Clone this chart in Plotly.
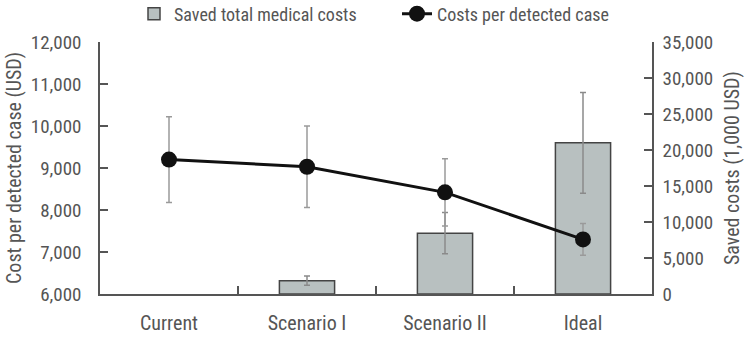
import plotly.graph_objects as go

categories = ["Current", "Scenario I", "Scenario II", "Ideal"]
cost_per_case = [9200, 9030, 8420, 7300]
cost_per_case_err = [1020, 970, 800, 380]
saved_costs = [None, 1850, 8450, 21000]
saved_costs_err = [None, 650, 2870, 7000]

FONT = "Roboto Condensed, Noto Sans Condensed, Liberation Sans Narrow, Liberation Sans, sans-serif"
TXT = "#555555"
AX = "#555555"

fig = go.Figure()
fig.add_trace(go.Bar(
    x=categories, y=saved_costs, name="Saved total medical costs",
    width=0.4, marker=dict(color="#b8c0c0", line=dict(color="#444444", width=1.5)),
    error_y=dict(type="data", array=saved_costs_err, color="#8a8a8a", thickness=1.5, width=3),
    yaxis="y",
))
fig.add_trace(go.Scatter(
    x=categories, y=cost_per_case, name="Costs per detected case",
    mode="lines+markers", line=dict(color="#111111", width=3),
    marker=dict(color="#111111", size=16),
    error_y=dict(type="data", array=cost_per_case_err, color="#9a9a9a", thickness=1.5, width=3),
    yaxis="y2",
))

fig.update_layout(
    width=747, height=337,
    margin=dict(l=100, r=95, t=42, b=43, autoexpand=False),
    paper_bgcolor="white", plot_bgcolor="white",
    font=dict(family=FONT, size=19, color=TXT),
    showlegend=True,
    legend=dict(orientation="h", x=0.5 + 21 / 552, xanchor="center", y=1 + 28 / 252, yref="paper",
                yanchor="middle", font=dict(size=18, color=TXT), traceorder="normal",
                entrywidth=218, entrywidthmode="pixels"),
    xaxis=dict(showline=True, linecolor=AX, linewidth=1.5, ticks="inside", tickson="boundaries",
               ticklen=8, tickcolor=AX, tickwidth=1.5, tickfont=dict(size=20, color=TXT),
               ticklabelstandoff=10, showgrid=False, automargin=False),
    yaxis=dict(side="right", range=[0, 35000], dtick=5000, tickformat=",", ticks="inside",
               ticklen=8, tickcolor=AX, tickwidth=1.5, showline=True, linecolor=AX, linewidth=1.5,
               showgrid=False, zeroline=False, tickfont=dict(size=19, color=TXT),
               ticklabelstandoff=5, automargin=False),
    yaxis2=dict(side="left", overlaying="y", range=[6000, 12000], dtick=1000, tickformat=",",
                ticks="inside", ticklen=8, tickcolor=AX, tickwidth=1.5, showline=True,
                linecolor=AX, linewidth=1.5, showgrid=False, zeroline=False,
                tickfont=dict(size=19, color=TXT), ticklabelstandoff=13, automargin=False),
    annotations=[
        dict(text="Cost per detected case (USD)", xref="paper", yref="paper", x=0, y=0.5,
             xanchor="center", yanchor="middle",
             xshift=-86, textangle=-90, showarrow=False, font=dict(size=20, color=TXT)),
        dict(text="Saved costs (1,000 USD)", xref="paper", yref="paper", x=1, y=0.5,
             xanchor="center", yanchor="middle",
             xshift=80, textangle=-90, showarrow=False, font=dict(size=20, color=TXT)),
    ],
)

fig.write_html("out.html")
